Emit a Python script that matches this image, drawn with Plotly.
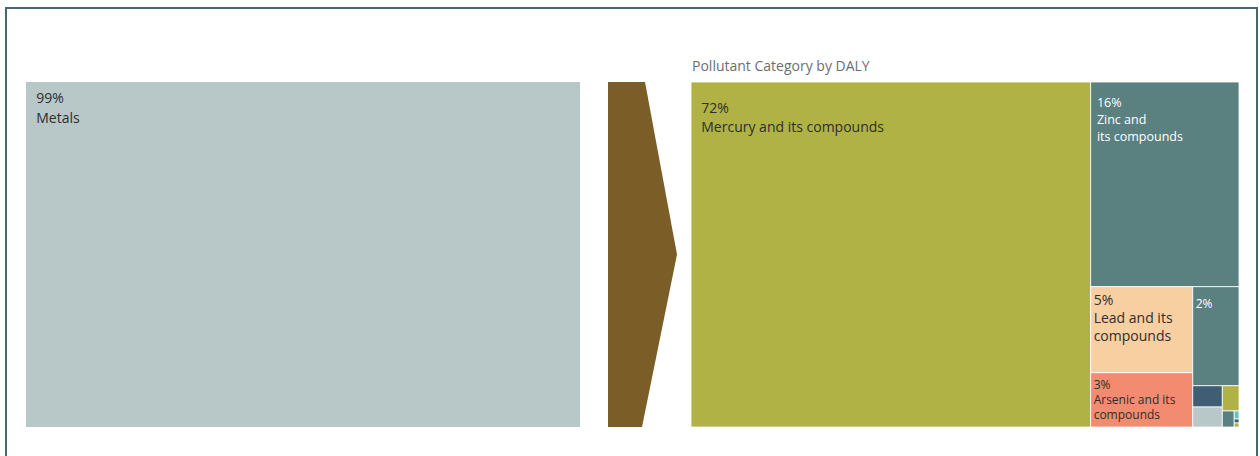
import plotly.graph_objects as go

# Share of total DALY (%) by pollutant group
group_labels = ["Metals"]
group_values = [99.0]

# Breakdown of metals by pollutant (% of total DALY)
pollutants = [
    "Mercury and its compounds",
    "Zinc and its compounds",
    "Lead and its compounds",
    "Arsenic and its compounds",
    "Cadmium and its compounds",
    "Nickel and its compounds",
    "Chromium and its compounds",
    "Copper and its compounds",
    "Antimony and its compounds",
    "Cobalt and its compounds",
    "Thallium and its compounds",
    "Selenium and its compounds",
]
pollutant_values = [72.2, 15.9, 4.6, 2.9, 2.4, 0.33, 0.31, 0.22, 0.10, 0.02, 0.01, 0.01]
# wrapped names shown inside the tiles (None = no label, [] = value only)
tile_names = [
    ["Mercury and its compounds"],
    ["Zinc and", "its compounds"],
    ["Lead and its", "compounds"],
    ["Arsenic and its", "compounds"],
    [],
    None, None, None, None, None, None, None,
]

W, H = 1260, 456
DARK = "#2e2e2e"
FONT = "Open Sans"
colors = ["#b0b245", "#5a807f", "#f8cfa0", "#f28b70", "#5a807f", "#3f5e73",
          "#b8c7c7", "#b0b245", "#5a807f", "#6cc2bb", "#3f5e73", "#b0b245"]
text_colors = [DARK, "white", DARK, DARK, "white"] + [DARK] * 7

# per-tile label layout: (content size, base size, lead lines, lines per row, indent)
label_style = [
    (14, 7.5, 2, 2, 2),
    (12.5, 4.36, 3, 3, 1),
    (14, 14, 0, 1, 0),
    (12, 11.5, 0, 1, 0),
    (12, 5, 2, 1, 0),
] + [(1, 1, 0, 1, 0)] * 7


def label_template(first, names, size, lead, step, indent):
    """Build a texttemplate: value on the first row, wrapped name below."""
    pad = "&nbsp;" * indent
    rows = [first] + list(names)
    body = ("<br>" * step).join(
        f"<span style='font-size:{size}px'>{pad}{row}</span>" for row in rows)
    return ("&nbsp;" + "<br>" * lead if lead else "") + body


templates, base_sizes = [], []
for names, (size, base, lead, step, indent) in zip(tile_names, label_style):
    base_sizes.append(base)
    if names is None:
        templates.append("")
    else:
        templates.append(label_template("%{value:.0f}%", names, size, lead, step, indent))

# panel geometry in paper units
y_dom = [1 - 427 / H, 1 - 82 / H]
left_dom = [26 / W, 580 / W]
right_dom = [691 / W, 1239 / W]

fig = go.Figure()

fig.add_trace(go.Treemap(
    labels=group_labels,
    parents=[""] * len(group_labels),
    values=group_values,
    texttemplate=label_template("%{value:.0f}%", ["%{label}"], 14, 2, 3, 2),
    textposition="top left",
    textfont=dict(family=FONT, size=5, color=DARK),
    marker=dict(colors=["#b8c7c7"], line=dict(width=0), pad=dict(t=0, l=0, r=0, b=0)),
    tiling=dict(pad=0),
    pathbar=dict(visible=False),
    domain=dict(x=left_dom, y=y_dom),
    hoverinfo="label+value",
))

fig.add_trace(go.Treemap(
    labels=pollutants,
    parents=[""] * len(pollutants),
    values=pollutant_values,
    texttemplate=templates,
    textposition="top left",
    textfont=dict(family=FONT, size=base_sizes, color=text_colors),
    marker=dict(colors=colors, line=dict(width=0.8, color="white"),
                pad=dict(t=0, l=0, r=0, b=0)),
    tiling=dict(packing="squarify", squarifyratio=1, pad=0),
    pathbar=dict(visible=False),
    sort=True,
    domain=dict(x=right_dom, y=y_dom),
    hoverinfo="label+value",
))

# chevron linking the two panels
ax0, ax1, atip = 608 / W, 645 / W, 677 / W
abx = 642 / W
ymid = (y_dom[0] + y_dom[1]) / 2
arrow = (f"M {ax0},{y_dom[1]} L {ax1},{y_dom[1]} L {atip},{ymid} "
         f"L {abx},{y_dom[0]} L {ax0},{y_dom[0]} Z")

fig.update_layout(
    width=W, height=H,
    margin=dict(l=0, r=0, t=0, b=0),
    paper_bgcolor="white",
    plot_bgcolor="white",
    shapes=[
        dict(type="path", xref="paper", yref="paper", path=arrow,
             fillcolor="#7b5e27", line=dict(width=0)),
        dict(type="rect", xref="paper", yref="paper",
             x0=6 / W, x1=1257 / W, y0=-0.1, y1=1 - 8 / H,
             line=dict(color="#4b6471", width=2), fillcolor="rgba(0,0,0,0)"),
    ],
    annotations=[
        dict(text="Pollutant Category by DALY", xref="paper", yref="paper",
             x=right_dom[0] - 1 / W, y=1 - 65 / H, xanchor="left", yanchor="middle",
             showarrow=False, font=dict(family=FONT, size=14, color="#6d6e71")),
    ],
)

fig.write_html("out.html")
